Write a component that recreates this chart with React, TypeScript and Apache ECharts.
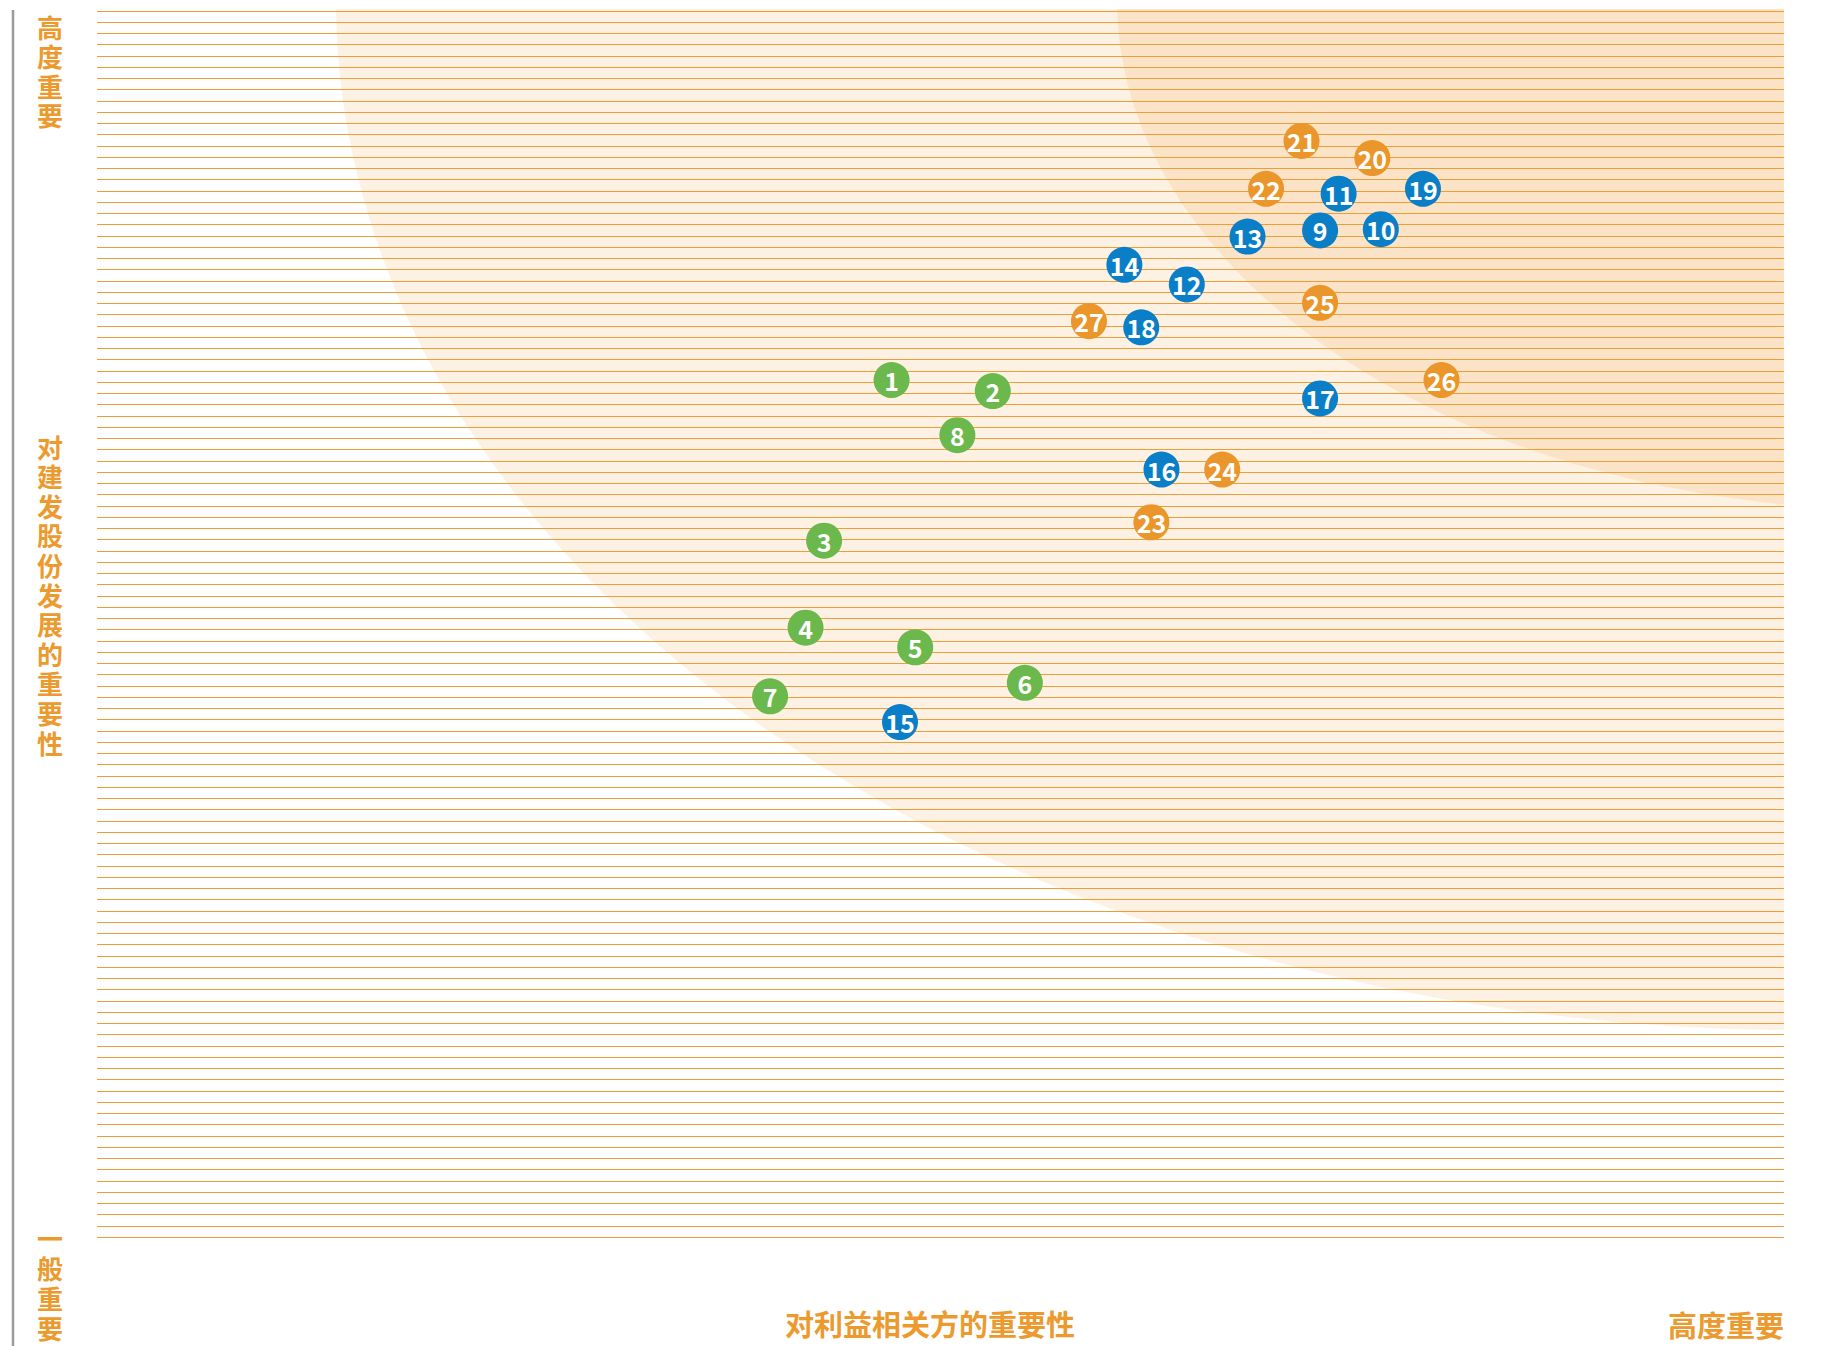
import React, { useEffect, useRef } from "react";
import * as echarts from "echarts";

// ---- data (x: importance to stakeholders, y: importance to development, 0-100) ----
const greenIds = ["1", "2", "3", "4", "5", "6", "7", "8"];
const greenX = [47.1, 53.1, 43.1, 42.0, 48.5, 55.0, 39.9, 51.0];
const greenY = [69.9, 69.0, 56.8, 49.7, 48.1, 45.2, 44.1, 65.4];

const blueIds = ["9", "10", "11", "12", "13", "14", "15", "16", "17", "18", "19"];
const blueX = [72.5, 76.1, 73.6, 64.6, 68.2, 60.9, 47.6, 63.1, 72.5, 61.9, 78.6];
const blueY = [82.1, 82.2, 85.1, 77.7, 81.6, 79.3, 42.0, 62.6, 68.4, 74.2, 85.5];

const orangeIds = ["20", "21", "22", "23", "24", "25", "26", "27"];
const orangeX = [75.6, 71.4, 69.3, 62.5, 66.7, 72.5, 79.7, 58.8];
const orangeY = [88.0, 89.4, 85.5, 58.3, 62.6, 76.2, 69.9, 74.7];

const yAxisTop = "高度重要";
const yAxisTitle = "对建发股份发展的重要性";
const yAxisBottom = "一般重要";
const xAxisTitle = "对利益相关方的重要性";
const xAxisRight = "高度重要";

const LINE_COUNT_INTERVALS = 109;

const W = 1821;
const H = 1346;
const GRID = { left: 97, top: 11, right: 37, bottom: 109 };
const ORANGE_TEXT = "#EC9A2E";
const FONT = '"Noto Sans CJK SC", "Noto Sans", sans-serif';

function bandPoints(cx: number, cy: number, a: number, b: number, yTop: number, xRight: number) {
  const t0 = Math.asin((yTop - cy) / b);
  const t1 = Math.acos((cx - xRight) / a);
  const pts: number[][] = [];
  const n = 160;
  for (let i = 0; i <= n; i++) {
    const t = t0 + ((t1 - t0) * i) / n;
    pts.push([cx - a * Math.cos(t), cy + b * Math.sin(t)]);
  }
  pts.push([xRight, yTop]);
  return pts;
}

function makeSeries(ids: string[], xs: number[], ys: number[], color: string) {
  return {
    type: "scatter",
    xAxisIndex: 0,
    yAxisIndex: 0,
    z: 10,
    symbol: "circle",
    symbolSize: 36,
    itemStyle: { color, opacity: 1 },
    label: {
      show: true,
      position: "inside",
      formatter: "{b}",
      color: "#ffffff",
      fontSize: 25,
      fontWeight: "bold",
      fontFamily: FONT,
    },
    data: ids.map((id, i) => ({ name: id, value: [xs[i], ys[i]] })),
  };
}

// one text element per character, stacked vertically
function verticalText(s: string, xCenter: number, firstCenterY: number, step: number) {
  return s.split("").map((ch, i) => ({
    type: "text",
    z: 5,
    silent: true,
    x: xCenter,
    y: firstCenterY + i * step,
    style: {
      text: ch,
      fill: ORANGE_TEXT,
      font: `bold 26px ${FONT}`,
      lineHeight: 26,
      align: "center",
      verticalAlign: "middle",
    },
  }));
}

export default function App() {
  const ref = useRef<HTMLDivElement>(null);
  useEffect(() => {
    if (!ref.current) return;
    const chart = echarts.init(ref.current, undefined, { renderer: "svg" });
    const xRight = W - GRID.right;
    const outer = bandPoints(1800, 0, 1464, 1030, 9, xRight);
    const inner = bandPoints(1900, 0, 783, 510, 9, xRight);
    chart.setOption({
      animation: false,
      backgroundColor: "#ffffff",
      grid: { left: GRID.left, top: GRID.top, right: GRID.right, bottom: GRID.bottom, containLabel: false },
      xAxis: {
        type: "value",
        min: 0,
        max: 100,
        show: false,
      },
      yAxis: [
        { type: "value", min: 0, max: 100, show: false },
        {
          type: "value",
          min: 0,
          max: LINE_COUNT_INTERVALS,
          interval: 1,
          position: "left",
          z: 3,
          axisLine: { show: false },
          axisTick: { show: false },
          axisLabel: { show: false },
          splitLine: { show: true, lineStyle: { color: "#EE9E34", width: 1 } },
        },
      ],
      graphic: {
        elements: [
          { type: "polygon", z: -10, silent: true, shape: { points: outer }, style: { fill: "#FDF1E4" } },
          { type: "polygon", z: -9, silent: true, shape: { points: inner }, style: { fill: "#FBE3C7" } },
          {
            type: "line",
            z: 5,
            silent: true,
            shape: { x1: 13, y1: 10, x2: 13, y2: H },
            style: { stroke: "#9b9b9b", lineWidth: 2.5 },
          },
          ...verticalText(yAxisTop, 50, 26, 29.6),
          ...verticalText(yAxisTitle, 50, 446, 29.6),
          ...verticalText(yAxisBottom, 50, 1237, 30.3),
          {
            type: "text",
            z: 5,
            x: 930,
            y: 1323,
            style: {
              text: xAxisTitle,
              fill: ORANGE_TEXT,
              font: `bold 29px ${FONT}`,
              lineHeight: 29,
              align: "center",
              verticalAlign: "middle",
            },
          },
          {
            type: "text",
            z: 5,
            x: xRight,
            y: 1324,
            style: {
              text: xAxisRight,
              fill: ORANGE_TEXT,
              font: `bold 29px ${FONT}`,
              lineHeight: 29,
              align: "right",
              verticalAlign: "middle",
            },
          },
        ],
      },
      series: [
        makeSeries(greenIds, greenX, greenY, "#6BB84D"),
        makeSeries(blueIds, blueX, blueY, "#0A7FC7"),
        makeSeries(orangeIds, orangeX, orangeY, "#EB962A"),
      ],
    });
    return () => chart.dispose();
  }, []);
  return (
    <div
      ref={ref}
      style={{ position: "absolute", left: 0, top: 0, width: W, height: H }}
    />
  );
}
